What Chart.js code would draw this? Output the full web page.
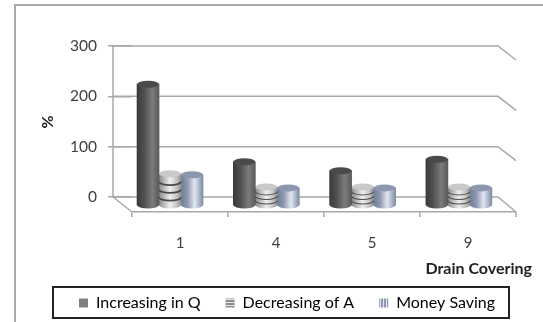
<!DOCTYPE html>
<html>
<head>
<meta charset="utf-8">
<style>
    html, body { margin: 0; padding: 0; background: #fff; }
    canvas { display: block; }
</style>
<script src="https://cdn.jsdelivr.net/npm/chart.js@4/dist/chart.umd.min.js"></script>
</head>
<body>
<canvas id="grafica" width="543" height="322"></canvas>
<script>
const categories = ['1', '4', '5', '9'];
const seriesNames = ['Increasing in Q', 'Decreasing of A', 'Money Saving'];
const increasingQ = [240, 86, 68, 91];
const decreasingA = [62, 36, 36, 36];
const moneySaving = [60, 34, 34, 34];
const yTicks = [0, 100, 200, 300];

const capColors = ['#4a4a4a', '#c9c9c9', '#8b97ae'];
const barStops = [
    [[0, '#3a3a3a'], [0.3, '#4e4e4e'], [0.7, '#7b7b7b'], [1, '#5a5a5a']],
    [[0, '#8a8a8a'], [0.5, '#efefef'], [0.8, '#c4c4c4'], [1, '#8f8f8f']],
    [[0, '#6f7c98'], [0.3, '#8f9bb5'], [0.62, '#e2e6ef'], [0.8, '#b4bccd'], [1, '#7f8ba6']]
];
const BAR_WIDTH = 22;
const CAP_RY = 3.5;

// Degradado horizontal de cada cilindro
function barGradient(context) {
    const chart = context.chart;
    const i = context.datasetIndex;
    if (!chart.chartArea || context.dataIndex === undefined) return capColors[i];
    const center = chart.scales.xb.getPixelForValue(context.dataIndex) + (i - 1) * BAR_WIDTH;
    const g = chart.ctx.createLinearGradient(center - BAR_WIDTH / 2, 0, center + BAR_WIDTH / 2, 0);
    barStops[i].forEach(s => g.addColorStop(s[0], s[1]));
    return g;
}

function stripePattern(vertical, dark, light) {
    const c = document.createElement('canvas');
    c.width = 3;
    c.height = 3;
    const p = c.getContext('2d');
    p.fillStyle = light;
    p.fillRect(0, 0, 3, 3);
    p.fillStyle = dark;
    if (vertical) p.fillRect(0, 0, 2, 3);
    else p.fillRect(0, 0, 3, 2);
    return p.createPattern(c, 'repeat');
}

// Pared del fondo, suelo y marco del gráfico en perspectiva
const walls = {
    id: 'walls',
    beforeDraw(chart) {
        const ctx = chart.ctx;
        const y = chart.scales.y;
        const area = chart.chartArea;
        const left = 113, back = 498;
        ctx.save();
        ctx.strokeStyle = '#a8a8a8';
        ctx.lineWidth = 2;
        ctx.beginPath();
        ctx.moveTo(15, 322);
        ctx.lineTo(15, 5);
        ctx.lineTo(543, 5);
        ctx.stroke();

        ctx.lineWidth = 1.5;
        ctx.beginPath();
        ctx.moveTo(left, y.getPixelForValue(300));
        ctx.lineTo(left, y.getPixelForValue(0));
        ctx.lineTo(area.left, area.bottom);
        ctx.stroke();
        yTicks.forEach(v => {
            const py = y.getPixelForValue(v);
            ctx.beginPath();
            ctx.moveTo(left, py);
            ctx.lineTo(back, py);
            ctx.lineTo(area.right, py + (v === 0 ? area.bottom - py : 14));
            ctx.stroke();
        });
        ctx.restore();
    }
};

// Tapas y base de los cilindros, discos y líneas de las series
const cylinders = {
    id: 'cylinders',
    afterDatasetsDraw(chart) {
        const ctx = chart.ctx;
        ctx.save();
        chart.data.datasets.forEach((ds, i) => {
            chart.getDatasetMeta(i).data.forEach(el => {
                const rx = el.width / 2;
                ctx.fillStyle = el.options.backgroundColor;
                ctx.beginPath();
                ctx.ellipse(el.x, el.base, rx, CAP_RY, 0, 0, Math.PI);
                ctx.fill();
                if (i === 1) {
                    const h = el.base - el.y;
                    ctx.strokeStyle = '#4a4a4a';
                    ctx.lineWidth = Math.max(1, h / 18);
                    for (let k = 1; k < 4; k++) {
                        ctx.beginPath();
                        ctx.ellipse(el.x, el.y + k * h / 4, rx, CAP_RY, 0, 0, Math.PI);
                        ctx.stroke();
                    }
                }
                ctx.fillStyle = capColors[i];
                ctx.beginPath();
                ctx.ellipse(el.x, el.y, rx, CAP_RY, 0, 0, Math.PI * 2);
                ctx.fill();
            });
        });
        ctx.restore();
    }
};

// Recuadro de la leyenda y títulos de los ejes
const extras = {
    id: 'extras',
    afterLayout(chart) {
        chart.legend.left = 54;
        chart.legend.right = 543;
        chart.legend.top = 270;
    },
    afterDraw(chart) {
        const ctx = chart.ctx;
        ctx.save();
        ctx.strokeStyle = '#222';
        ctx.lineWidth = 2;
        ctx.strokeRect(53, 287, 456, 31);
        ctx.fillStyle = '#222';
        ctx.font = 'bold 16px Lato';
        ctx.textAlign = 'right';
        ctx.textBaseline = 'middle';
        ctx.fillText('Drain Covering', 532, 269);
        ctx.translate(48, 122);
        ctx.rotate(-Math.PI / 2);
        ctx.textAlign = 'center';
        ctx.fillText('%', 0, 0);
        ctx.restore();
    }
};

const legendFills = [
    '#7f7f7f',
    stripePattern(false, '#8c8c8c', '#e4e4e4'),
    stripePattern(true, '#8d98b2', '#e4e7ef')
];

new Chart(document.getElementById('grafica'), {
    type: 'bar',
    data: {
        labels: categories,
        datasets: [increasingQ, decreasingA, moneySaving].map((valores, i) => ({
            label: seriesNames[i],
            data: valores.map((v, k) => ({ x: k, y: v })),
            xAxisID: 'xb',
            yAxisID: 'yb',
            barThickness: BAR_WIDTH,
            backgroundColor: barGradient,
            borderWidth: 0
        }))
    },
    options: {
        responsive: false,
        animation: false,
        layout: { padding: { top: 46, left: 38, right: 27, bottom: 0 } },
        plugins: {
            tooltip: { enabled: false },
            legend: {
                position: 'bottom',
                align: 'start',
                labels: {
                    boxWidth: 9,
                    boxHeight: 9,
                    padding: 25,
                    color: '#404040',
                    font: { family: 'Lato', size: 16 },
                    generateLabels: () => seriesNames.map((name, i) => ({
                        text: name,
                        fillStyle: legendFills[i],
                        strokeStyle: 'transparent',
                        lineWidth: 0,
                        datasetIndex: i
                    }))
                }
            }
        },
        scales: {
            x: {
                type: 'category',
                position: 'bottom',
                offset: true,
                afterFit: s => { s.height = 59; },
                border: { color: '#a8a8a8', width: 1.5 },
                grid: { offset: true, drawOnChartArea: false, color: '#a8a8a8', tickLength: 5, lineWidth: 1.5 },
                ticks: { color: '#404040', padding: 17, font: { family: 'Lato', size: 15 } }
            },
            // Eje de los cilindros, desplazado hacia el fondo respecto al eje frontal
            xb: {
                type: 'linear',
                display: false,
                offset: false,
                min: -0.395,
                max: 3.593
            },
            y: {
                type: 'linear',
                min: -29.8,
                max: 300,
                afterBuildTicks: s => { s.ticks = yTicks.map(v => ({ value: v })); },
                afterFit: s => { s.width = 94; },
                border: { display: false },
                grid: { drawOnChartArea: false, color: '#a8a8a8', tickLength: 24, lineWidth: 1.5 },
                ticks: { color: '#404040', padding: 11, font: { family: 'Lato', size: 15.5 } }
            },
            yb: {
                type: 'linear',
                display: false,
                min: -13.9,
                max: 315.9
            }
        }
    },
    plugins: [walls, cylinders, extras]
});
</script>
</body>
</html>
